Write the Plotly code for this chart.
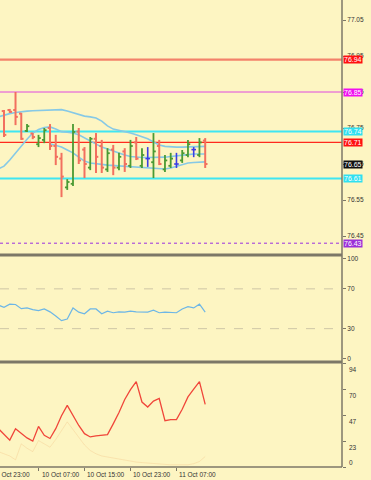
import plotly.graph_objects as go

# ---------------- data ----------------
bar_index = list(range(36))
opens = [76.797, 76.800, 76.800, 76.790, 76.742, 76.735, 76.705, 76.717, 76.750, 76.700,
         76.665, 76.585, 76.595, 76.740, 76.690, 76.640, 76.720, 76.700, 76.635, 76.690,
         76.640, 76.685, 76.645, 76.710, 76.645, 76.665, 76.655, 76.700, 76.635, 76.645,
         76.650, 76.660, 76.675, 76.690, 76.675, 76.715]
highs = [76.800, 76.803, 76.850, 76.792, 76.761, 76.736, 76.731, 76.750, 76.761, 76.731,
         76.681, 76.608, 76.761, 76.750, 76.697, 76.725, 76.736, 76.717, 76.694, 76.703,
         76.681, 76.694, 76.717, 76.725, 76.694, 76.697, 76.736, 76.717, 76.675, 76.681,
         76.681, 76.689, 76.717, 76.697, 76.722, 76.722]
lows = [76.725, 76.792, 76.758, 76.717, 76.739, 76.719, 76.697, 76.708, 76.689, 76.647,
        76.558, 76.578, 76.589, 76.650, 76.611, 76.633, 76.625, 76.625, 76.628, 76.619,
        76.633, 76.628, 76.639, 76.661, 76.639, 76.642, 76.611, 76.647, 76.628, 76.639,
        76.639, 76.653, 76.669, 76.669, 76.669, 76.639]
closes = [76.731, 76.795, 76.781, 76.720, 76.755, 76.725, 76.722, 76.744, 76.700, 76.670,
          76.615, 76.600, 76.739, 76.660, 76.650, 76.720, 76.670, 76.640, 76.680, 76.640,
          76.670, 76.650, 76.700, 76.665, 76.675, 76.665, 76.685, 76.650, 76.660, 76.665,
          76.650, 76.680, 76.705, 76.690, 76.710, 76.650]

ind_index = list(range(-1, 36))
bb_upper = [76.781, 76.786, 76.790, 76.793, 76.796, 76.797, 76.798, 76.799, 76.799, 76.800,
            76.801, 76.801, 76.797, 76.792, 76.788, 76.783, 76.781, 76.778, 76.769, 76.756,
            76.747, 76.744, 76.740, 76.736, 76.731, 76.725, 76.720, 76.711, 76.703, 76.699,
            76.697, 76.697, 76.697, 76.697, 76.697, 76.697, 76.699]
bb_middle = [76.636, 76.644, 76.661, 76.681, 76.700, 76.719, 76.736, 76.746, 76.751, 76.753,
             76.747, 76.740, 76.738, 76.736, 76.731, 76.722, 76.714, 76.706, 76.697, 76.692,
             76.686, 76.681, 76.675, 76.671, 76.669, 76.668, 76.668, 76.668, 76.668, 76.669,
             76.671, 76.672, 76.675, 76.676, 76.678, 76.678, 76.678]
bb_lower = [None] * 9 + [76.706, 76.701, 76.697, 76.689, 76.681, 76.669, 76.658, 76.653,
                         76.650, 76.649, 76.647, 76.646, 76.644, 76.643, 76.642, 76.640,
                         76.639, 76.639, 76.638, 76.636, 76.636, 76.639, 76.644, 76.650,
                         76.653, 76.654, 76.656, 76.656]
rsi = [53.7, 51.4, 54.6, 54.3, 50.1, 50.8, 49.2, 48.2, 49.8, 46.9, 42.8, 38.0, 39.6, 50.8,
       46.6, 45.0, 49.8, 49.8, 45.0, 47.6, 46.0, 46.9, 46.6, 47.6, 46.9, 46.9, 46.6, 48.5,
       46.0, 46.6, 46.6, 46.0, 49.8, 52.1, 50.8, 54.6, 46.6]
stoch_main = [35.0, 29.7, 24.4, 34.8, 30.3, 26.4, 23.5, 36.8, 28.8, 25.9, 34.8, 46.5, 56.0,
              46.5, 37.7, 30.3, 27.3, 28.2, 28.8, 29.4, 39.2, 49.5, 61.3, 70.2, 77.6, 59.0,
              54.5, 59.8, 62.2, 42.1, 43.0, 43.0, 52.5, 63.7, 70.7, 77.6, 56.9]
stoch_signal = [14, 12, 10, 6.5, 21, 17, 14, 24, 21, 18, 25, 33, 41, 34, 27, 20, 15, 12, 10,
                9, 8, 7, 6, 5, 4.5, 4, 3.5, 3, 3, 2.5, 2, 2, 2, 2, 3, 5, 9.5]

x_tick_index = [-2, 6, 14, 22, 30]
x_tick_labels = ["9 Oct 23:00", "10 Oct 07:00", "10 Oct 15:00", "10 Oct 23:00", "11 Oct 07:00"]

price_ticks = [77.05, 76.95, 76.85, 76.75, 76.65, 76.55, 76.45]
levels = [76.94, 76.85, 76.74, 76.71, 76.61, 76.43]
level_labels = ["76.94", "76.85", "76.74", "76.71", "76.61", "76.43"]
level_colors = ["#F3826A", "#E048E0", "#3FE6F2", "#FF2A1E", "#3FE6F2", "#9A2FE0"]
level_box = ["#FF1010", "#F010F0", "#30E0F0", "#FF1010", "#30E0F0", "#9B30D8"]
level_width = [2.2, 1, 2, 1.3, 2, 1]
level_dash = ["solid", "solid", "solid", "solid", "solid", "dot"]

rsi_ticks = [100, 70, 30, 0]
rsi_grid = [70, 30]
stoch_ticks = [94, 70, 47, 23, 0]

# ---------------- figure ----------------
W, H = 371, 480
ML, MR, MT, MB = 0, 29, 0, 13
plot_h = H - MT - MB
XR = [-0.7, 58.8]
BG = "#FDF5C2"
FRAME = "#7C7767"
FONT = "Liberation Sans"

dom_main = [(plot_h - 254) / plot_h, 1.0]
dom_rsi = [(plot_h - 361) / plot_h, (plot_h - 256.5) / plot_h]
dom_sto = [0.0, (plot_h - 363.5) / plot_h]

fig = go.Figure()


def bar_path(sel):
    xs, ys = [], []
    for k in sel:
        x = bar_index[k]
        xs += [x, x, None, x - 0.4, x, None, x, x + 0.4, None]
        ys += [lows[k], highs[k], None, opens[k], opens[k], None, closes[k], closes[k], None]
    return xs, ys


# Bollinger bands
for band in (bb_upper, bb_middle, bb_lower):
    fig.add_trace(go.Scatter(x=ind_index, y=band, mode="lines", xaxis="x", yaxis="y",
                             line=dict(color="#86C9E6", width=1.6), hoverinfo="skip",
                             showlegend=False, connectgaps=False))

groups = {
    "down": ([k for k in bar_index if closes[k] < opens[k]], "#F2705F", 2.0),
    "up": ([k for k in bar_index if closes[k] > opens[k]], "#4A9A33", 1.8),
    "flat": ([k for k in bar_index if closes[k] == opens[k]], "#3C3CE4", 1.6),
}
for name, (sel, col, w) in groups.items():
    xs, ys = bar_path(sel)
    fig.add_trace(go.Scatter(x=xs, y=ys, mode="lines", xaxis="x", yaxis="y",
                             line=dict(color=col, width=w), hoverinfo="skip",
                             showlegend=False))

# RSI
fig.add_trace(go.Scatter(x=ind_index, y=rsi, mode="lines", xaxis="x2", yaxis="y2",
                         line=dict(color="#6DB6E6", width=1.2), showlegend=False))
# Stochastic
fig.add_trace(go.Scatter(x=ind_index, y=stoch_signal, mode="lines", xaxis="x3", yaxis="y3",
                         line=dict(color="rgba(240,175,110,0.25)", width=1), showlegend=False))
fig.add_trace(go.Scatter(x=ind_index, y=stoch_main, mode="lines", xaxis="x3", yaxis="y3",
                         line=dict(color="#F0463A", width=1.3), showlegend=False))

shapes = []
annotations = []

# horizontal levels
for lv, lab, lc, bc, lw, ld in zip(levels, level_labels, level_colors, level_box, level_width, level_dash):
    shapes.append(dict(type="line", xref="x domain", yref="y", x0=0, x1=1, y0=lv, y1=lv,
                       line=dict(color=lc, width=lw, dash=ld), layer="below"))
    annotations.append(dict(xref="paper", yref="y", x=1, y=lv, xanchor="left", xshift=1,
                            text=lab, showarrow=False, bgcolor=bc, borderpad=0,
                            font=dict(family=FONT, size=7, color="white")))
# current price
annotations.append(dict(xref="paper", yref="y", x=1, y=closes[-1], xanchor="left", xshift=1,
                        text=f"{closes[-1]:.2f}", showarrow=False, bgcolor="#111111", borderpad=0,
                        font=dict(family=FONT, size=7, color="white")))

# rsi dashed levels
for g in rsi_grid:
    shapes.append(dict(type="line", xref="x2 domain", yref="y2", x0=0, x1=1, y0=g, y1=g,
                       line=dict(color="#CFC6A6", width=1, dash="dash"), layer="below"))

# stochastic tick labels (MT4 draws them just below the tick)
for t in stoch_ticks:
    annotations.append(dict(xref="paper", yref="y3", x=1, y=t, xanchor="left", xshift=5,
                            yanchor="middle", yshift=(5 if t == 0 else -6), text=str(t),
                            showarrow=False, font=dict(family=FONT, size=6.5, color="#333333")))

# x labels, left aligned at the tick
for idx, lab in zip(x_tick_index, x_tick_labels):
    frac = (idx - XR[0]) / (XR[1] - XR[0])
    annotations.append(dict(xref="paper", yref="paper", x=frac, y=0, xanchor="left",
                            yanchor="top", xshift=1, yshift=-2, text=lab, showarrow=False,
                            font=dict(family=FONT, size=6.5, color="#333333")))

# frames
for y0 in (dom_main[0], dom_rsi[0]):
    shapes.append(dict(type="line", xref="paper", yref="paper", x0=0, x1=1,
                       y0=y0 - 0.002, y1=y0 - 0.002, line=dict(color=FRAME, width=3)))
shapes.append(dict(type="line", xref="paper", yref="paper", x0=1, x1=1, y0=0, y1=1,
                   line=dict(color=FRAME, width=1.5)))
shapes.append(dict(type="line", xref="paper", yref="paper", x0=0, x1=1, y0=0, y1=0,
                   line=dict(color=FRAME, width=1.5)))

xcommon = dict(range=XR, showgrid=False, zeroline=False, showticklabels=False, fixedrange=True)
ycommon = dict(side="right", showgrid=False, zeroline=False, ticks="outside", ticklen=3,
               tickcolor=FRAME, tickfont=dict(family=FONT, size=6.5, color="#333333"),
               fixedrange=True)

fig.update_layout(
    width=W, height=H, margin=dict(l=ML, r=MR, t=MT, b=MB),
    paper_bgcolor=BG, plot_bgcolor=BG, showlegend=False,
    xaxis=dict(**xcommon, anchor="y"),
    xaxis2=dict(**xcommon, anchor="y2", matches="x"),
    xaxis3=dict(**xcommon, anchor="y3", matches="x", ticks="outside", ticklen=3,
                tickcolor=FRAME, tickvals=x_tick_index[1:]),
    yaxis=dict(**ycommon, domain=dom_main, anchor="x", range=[76.400, 77.1056],
               tickvals=price_ticks, ticktext=[f"{v:.2f}" for v in price_ticks]),
    yaxis2=dict(**ycommon, domain=dom_rsi, anchor="x2", range=[-2.5, 102.5],
                tickvals=rsi_ticks),
    yaxis3=dict(**ycommon, domain=dom_sto, anchor="x3", range=[0, 94],
                tickvals=stoch_ticks, showticklabels=False),
    shapes=shapes, annotations=annotations,
)

fig.write_html("out.html")
